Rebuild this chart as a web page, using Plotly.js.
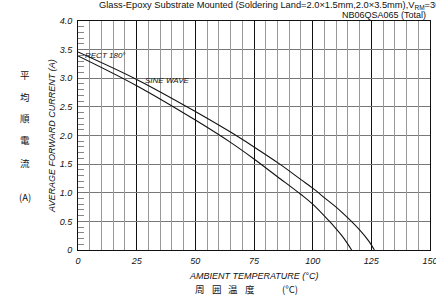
<!DOCTYPE html>
<html><head><meta charset="utf-8">
<script src="https://cdn.plot.ly/plotly-3.0.1.min.js"></script>
<style>body{margin:0;background:#fff}#c{width:436px;height:295px}</style>
</head><body><div id="c"></div>
<script>
// RECT 180° (upper curve)
const rectTemp = [0, 25, 50, 65, 75, 86, 95, 100, 106, 110, 115, 120, 124, 126.3];
const rectCurr = [3.46, 2.98, 2.42, 2.06, 1.80, 1.50, 1.23, 1.08, 0.88, 0.75, 0.56, 0.35, 0.15, 0];
// SINE WAVE (lower curve)
const sineTemp = [0, 25, 50, 65, 75, 85, 95, 100, 106.7, 110, 113, 116.6];
const sineCurr = [3.39, 2.87, 2.27, 1.88, 1.59, 1.28, 0.97, 0.80, 0.52, 0.37, 0.22, 0];
const xTicks = [0, 25, 50, 75, 100, 125, 150];
const xTickText = ["0", "25", "50", "75", "100", "125", "150"];
const yTicks = [0, 0.5, 1.0, 1.5, 2.0, 2.5, 3.0, 3.5, 4.0];
const yTickText = ["0", "0.5", "1.0", "1.5", "2.0", "2.5", "3.0", "3.5", "4.0"];
const xMinor = [5, 10, 15, 20, 30, 35, 40, 45, 55, 60, 65, 70, 80, 85, 90, 95, 105, 110, 115, 120, 130, 135, 140, 145];
const yMinor = [0.1, 0.2, 0.3, 0.4, 0.6, 0.7, 0.8, 0.9, 1.1, 1.2, 1.3, 1.4, 1.6, 1.7, 1.8, 1.9, 2.1, 2.2, 2.3, 2.4, 2.6, 2.7, 2.8, 2.9, 3.1, 3.2, 3.3, 3.4, 3.6, 3.7, 3.8, 3.9];

const F = "Liberation Sans, Arial, sans-serif";
const xr = [xTicks[0], xTicks[xTicks.length - 1]];
const yr = [yTicks[0], yTicks[yTicks.length - 1]];
const line = {color: "#111", width: 1.1, shape: "spline", smoothing: 1};
const data = [
  {x: xr, y: yr, xaxis: "x2", yaxis: "y2", mode: "markers", marker: {opacity: 0, size: 1}, hoverinfo: "skip"},
  {x: rectTemp, y: rectCurr, mode: "lines", line: line, hoverinfo: "skip"},
  {x: sineTemp, y: sineCurr, mode: "lines", line: line, hoverinfo: "skip"}
];
const L = 78, R = 430, T = 21, B = 250;
const px = v => (v - L) / (R - L);
const py = v => (B - v) / (B - T);
const ann = (x, y, text, opt) => Object.assign({xref: "paper", yref: "paper", x: px(x), y: py(y), text: text, showarrow: false,
  xanchor: "center", yanchor: "middle", font: {family: F, size: 9, color: "#111"}}, opt || {});
const cjk = {family: "Noto Sans CJK JP", size: 9.5, color: "#111"};
const annotations = [
  ann(97, 6, "Glass-Epoxy Substrate Mounted (Soldering Land=2.0×1.5mm,2.0×3.5mm),V<sub>RM</sub>=30V", {xanchor: "left", font: {family: F, size: 9.3, color: "#111"}}),
  ann(428, 15, "NB06QSA065 (Total)", {xanchor: "right"}),
  ann(83, 55, "RECT 180°", {xanchor: "left", font: {family: F, size: 8, color: "#111", style: "italic"}}),
  ann(143, 80, "SINE WAVE", {xanchor: "left", font: {family: F, size: 8, color: "#111", style: "italic"}}),
  ann(52, 136, "AVERAGE FORWARD CURRENT (A)", {textangle: -90, font: {family: F, size: 9, color: "#111", style: "italic"}}),
  ann(253, 276, "AMBIENT TEMPERATURE (°C)", {font: {family: F, size: 9, color: "#111", style: "italic"}}),
  ann(200, 288.5, "周", {font: cjk}),
  ann(217, 288.5, "囲", {font: cjk}),
  ann(233, 288.5, "温", {font: cjk}),
  ann(250, 288.5, "度", {font: cjk}),
  ann(290, 288.5, "(°C)", {font: cjk}),
  ann(25, 75, "平", {font: cjk}),
  ann(25, 97, "均", {font: cjk}),
  ann(25, 118, "順", {font: cjk}),
  ann(25, 140, "電", {font: cjk}),
  ann(25, 163, "流", {font: cjk}),
  ann(25, 197, "(A)", {font: cjk})
];
const layout = {
  width: 436, height: 295,
  margin: {l: L, r: 436 - R, t: T, b: 295 - B},
  paper_bgcolor: "#fff", plot_bgcolor: "rgba(0,0,0,0)",
  showlegend: false,
  font: {family: F, size: 9, color: "#111"},
  xaxis2: {range: xr, overlaying: "x", anchor: "y2", side: "bottom", tickmode: "array", tickvals: xMinor, showticklabels: false, ticks: "",
    showgrid: true, gridcolor: "#999", gridwidth: 1, zeroline: false, showline: false, fixedrange: true},
  yaxis2: {range: yr, overlaying: "y", anchor: "x2", side: "left", tickmode: "array", tickvals: yMinor, showticklabels: false,
    ticks: "inside", ticklen: 6, tickcolor: "#888", tickwidth: 1, showgrid: false, zeroline: false, showline: false, fixedrange: true},
  xaxis: {range: xr, tickmode: "array", tickvals: xTicks, ticktext: xTickText,
    showgrid: true, gridcolor: "#111", gridwidth: 1,
    zeroline: false, showline: true, linecolor: "#111", linewidth: 1, mirror: true, ticks: "",
    ticklabeloverflow: "allow",
    tickfont: {family: F, size: 9, color: "#111", style: "italic"}, ticklabelstandoff: 2, fixedrange: true},
  yaxis: {range: yr, tickmode: "array", tickvals: yTicks, ticktext: yTickText,
    showgrid: true, gridcolor: "#777", gridwidth: 1,
    zeroline: false, showline: true, linecolor: "#111", linewidth: 1, mirror: true, ticks: "",
    tickfont: {family: F, size: 9, color: "#111", style: "italic"}, ticklabelstandoff: 3, fixedrange: true},
  annotations: annotations
};
Plotly.newPlot("c", data, layout, {displayModeBar: false});
</script></body></html>
